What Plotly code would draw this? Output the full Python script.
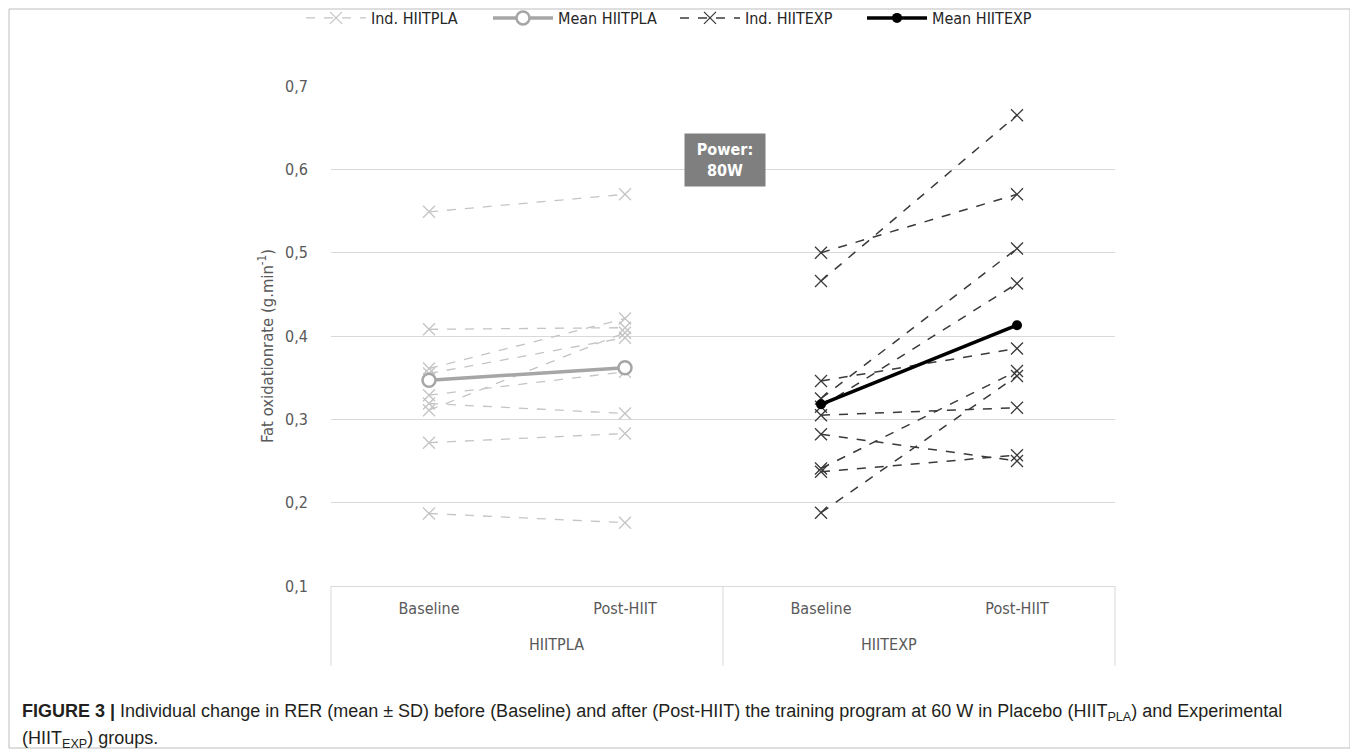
import plotly.graph_objects as go

# ---- data ----
groups = ["HIITPLA", "HIITEXP"]
phases = ["Baseline", "Post-HIIT"]
y_ticks = [0.1, 0.2, 0.3, 0.4, 0.5, 0.6, 0.7]

pla_baseline = [0.549, 0.408, 0.361, 0.355, 0.329, 0.319, 0.311, 0.272, 0.187]
pla_post     = [0.570, 0.410, 0.421, 0.398, 0.357, 0.307, 0.404, 0.283, 0.176]
pla_mean     = [0.347, 0.362]

exp_baseline = [0.500, 0.466, 0.346, 0.325, 0.315, 0.305, 0.282, 0.241, 0.237, 0.188]
exp_post     = [0.570, 0.665, 0.385, 0.505, 0.463, 0.314, 0.250, 0.358, 0.257, 0.352]
exp_mean     = [0.318, 0.413]

# category keys (group + phase) and their tick labels
cat_keys = [g + " " + p for g in groups for p in phases]
cat_text = [p for g in groups for p in phases]

# ---- layout geometry (figure pixels; page body adds an 8px offset) ----
W, H = 1350, 744
L, R, T, B = 323, 1107, 78, 578


def xp(px):
    return (px - L) / (R - L)


def yp(py):
    return (B - py) / (B - T)


TXT = "#595959"
FONT = "Liberation Sans Narrow, Arial Narrow, DejaVu Sans Condensed, sans-serif"

fig = go.Figure()


def xcat(g):
    return [g + " " + p for p in phases]


for i, (a, b) in enumerate(zip(pla_baseline, pla_post)):
    fig.add_trace(go.Scatter(
        x=xcat(groups[0]), y=[a, b], mode="lines+markers",
        name="Ind. HIITPLA", legendgroup="ipla", showlegend=(i == 0),
        line=dict(color="#c4c4c4", width=1.3, dash="dash"),
        marker=dict(symbol="x-thin-open", size=12, line=dict(color="#b4b4b4", width=1.3)),
    ))

fig.add_trace(go.Scatter(
    x=xcat(groups[0]), y=pla_mean, mode="lines+markers", name="Mean HIITPLA",
    line=dict(color="#a6a6a6", width=3.5),
    marker=dict(symbol="circle", size=13, color="white", line=dict(color="#a6a6a6", width=2.5)),
))

for i, (a, b) in enumerate(zip(exp_baseline, exp_post)):
    fig.add_trace(go.Scatter(
        x=xcat(groups[1]), y=[a, b], mode="lines+markers",
        name="Ind. HIITEXP", legendgroup="iexp", showlegend=(i == 0),
        line=dict(color="#3a3a3a", width=1.5, dash="dash"),
        marker=dict(symbol="x-thin-open", size=12, line=dict(color="#262626", width=1.3)),
    ))

fig.add_trace(go.Scatter(
    x=xcat(groups[1]), y=exp_mean, mode="lines+markers", name="Mean HIITEXP",
    line=dict(color="#000000", width=3.5),
    marker=dict(symbol="circle", size=10, color="#000000"),
))

fig.update_layout(
    width=W, height=H,
    margin=dict(l=L, r=W - R, t=T, b=H - B, autoexpand=False),
    paper_bgcolor="white", plot_bgcolor="white",
    separators=", ",
    font=dict(family=FONT, color=TXT, size=14),
    showlegend=True,
    legend=dict(
        orientation="h", x=xp(667), xanchor="center", y=yp(10), yanchor="middle",
        font=dict(family=FONT, size=16, color="#262626"), itemwidth=60,
        entrywidth=112, entrywidthmode="pixels",
        traceorder="normal", bgcolor="rgba(0,0,0,0)",
    ),
    xaxis=dict(
        type="category", categoryorder="array", categoryarray=cat_keys,
        tickvals=cat_keys, ticktext=cat_text, range=[-0.5, 3.5],
        showgrid=False, showline=True, linecolor="#d9d9d9", linewidth=1, ticks="",
        ticklabelstandoff=8,
        tickfont=dict(family=FONT, size=16, color=TXT),
    ),
    yaxis=dict(
        range=[0.1, 0.7], tickvals=y_ticks, tickformat=".1f",
        showgrid=True, gridcolor="#d9d9d9", gridwidth=1, zeroline=False,
        showline=False, ticks="", ticklabelstandoff=22,
        tickfont=dict(family=FONT, size=16, color=TXT),
    ),
)

# group labels under the categories
for gi, g in enumerate(groups):
    fig.add_annotation(
        text=g, xref="paper", yref="paper", x=0.25 + 0.5 * gi, y=yp(B + 59),
        showarrow=False, yanchor="middle", font=dict(family=FONT, size=16, color=TXT),
    )
# group dividers of the category axis
for xv in [0.0, 0.5, 1.0]:
    fig.add_shape(
        type="line", xref="paper", yref="paper", x0=xv, x1=xv, y0=0, y1=yp(B + 80),
        line=dict(color="#d9d9d9", width=1),
    )

fig.add_annotation(
    text="Fat oxidationrate (g.min<sup>-1</sup>)", textangle=-90,
    xref="paper", yref="paper", x=xp(258), y=yp(338), showarrow=False,
    xanchor="center", yanchor="middle",
    font=dict(family=FONT, size=16.5, color=TXT),
)

fig.add_annotation(
    text="<b>Power:<br>80W</b>", xref="paper", yref="paper",
    x=xp(717), y=yp(125), xanchor="center", yanchor="top", showarrow=False,
    bgcolor="#7f7f7f", width=64, height=36, borderpad=8,
    font=dict(family=FONT, size=16, color="white"),
)

CAP = "Liberation Sans, Arial, sans-serif"
fig.add_annotation(
    text="<b>FIGURE 3 |</b> Individual change in RER (mean ± SD) before (Baseline) and after (Post-HIIT) "
         "the training program at 60 W in Placebo (HIIT<sub>PLA</sub>) and Experimental",
    xref="paper", yref="paper", x=xp(12), y=yp(704), xanchor="left", yanchor="middle",
    showarrow=False, font=dict(family=CAP, size=18, color="#231f20"),
)
fig.add_annotation(
    text="(HIIT<sub>EXP</sub>) groups.",
    xref="paper", yref="paper", x=xp(12), y=yp(731), xanchor="left", yanchor="middle",
    showarrow=False, font=dict(family=CAP, size=18, color="#231f20"),
)

fig.add_shape(
    type="rect", xref="paper", yref="paper",
    x0=xp(1), x1=xp(1342), y0=yp(740), y1=yp(1),
    line=dict(color="#bdbdbd", width=1), layer="below",
)

fig.write_html("out.html")
